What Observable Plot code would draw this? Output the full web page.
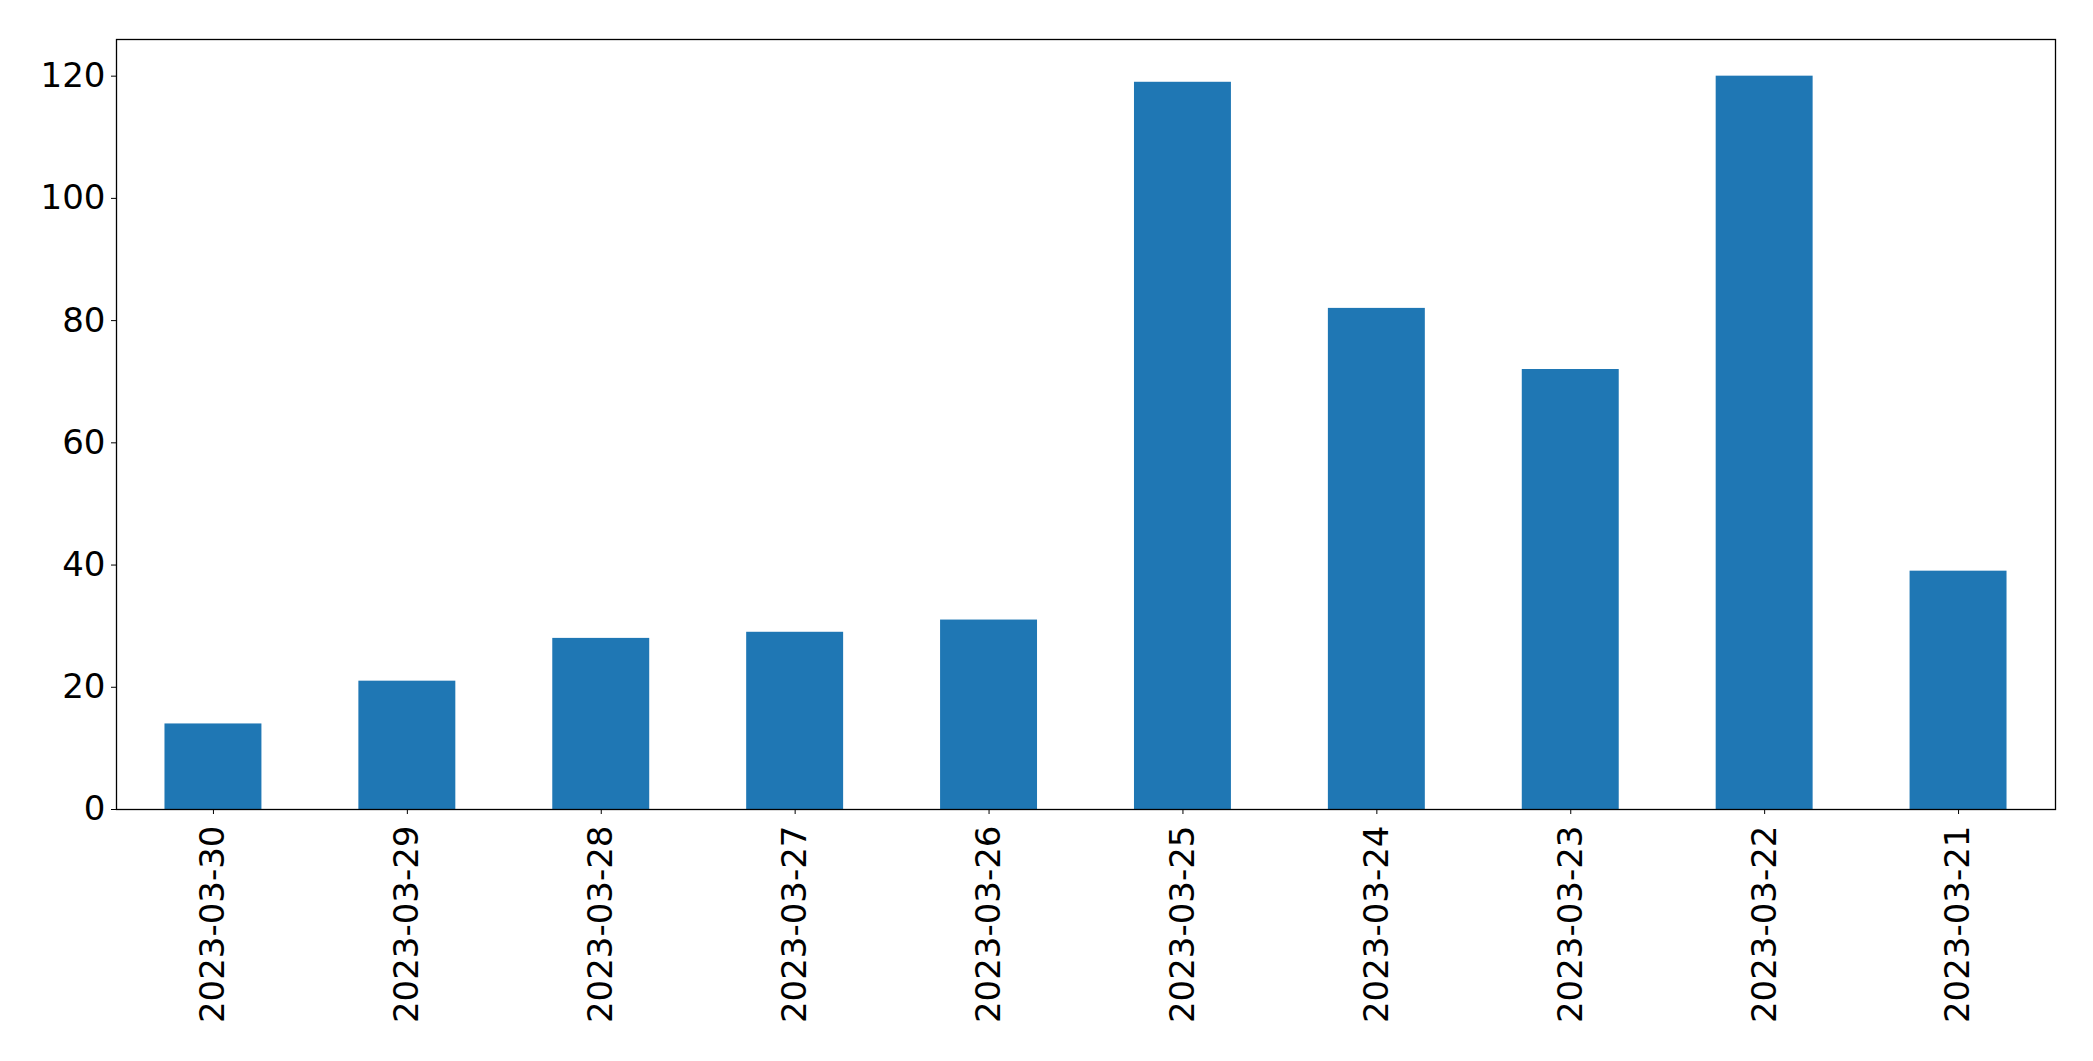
<!DOCTYPE html>
<html>
<head>
<meta charset="utf-8">
<script src="https://cdn.jsdelivr.net/npm/d3@7"></script>
<script src="https://cdn.jsdelivr.net/npm/@observablehq/plot@0.6"></script>
<style>
  html, body { margin: 0; padding: 0; background: #fff; }
  svg { display: block; }
</style>
</head>
<body>
<div id="chart"></div>
<script>
const dates = ["2023-03-30","2023-03-29","2023-03-28","2023-03-27","2023-03-26","2023-03-25","2023-03-24","2023-03-23","2023-03-22","2023-03-21"];
const counts = [14, 21, 28, 29, 31, 119, 82, 72, 120, 39];
const yTicks = [0, 20, 40, 60, 80, 100, 120];

const data = dates.map((d, i) => ({date: d, count: counts[i]}));

const chart = Plot.plot({
  width: 2093,
  height: 1061,
  marginLeft: 116,
  marginRight: 38,
  marginTop: 39,
  marginBottom: 252,
  style: {fontFamily: "DejaVu Sans", fontSize: "34px", color: "black", background: "white"},
  x: {domain: dates, paddingInner: 0.5, paddingOuter: 0.25, round: false, label: null},
  y: {domain: [0, 126], label: null},
  marks: [
    Plot.barY(data, {x: "date", y: "count", fill: "#1f77b4"}),
    Plot.frame({stroke: "black", strokeWidth: 1.3}),
    Plot.axisY({ticks: yTicks, tickSize: 5, tickPadding: 6, label: null, fontSize: 34}),
    Plot.axisX({tickRotate: -90, tickSize: 5, tickPadding: 11, label: null, fontSize: 34})
  ]
});
document.getElementById("chart").appendChild(chart);
</script>
</body>
</html>
